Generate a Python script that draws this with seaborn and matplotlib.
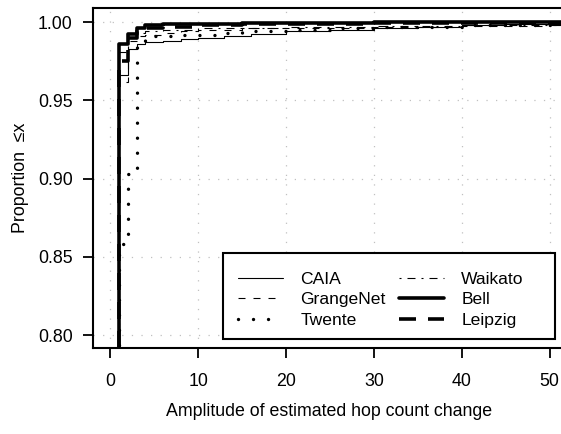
import numpy as np
import pandas as pd
import matplotlib
matplotlib.use("Agg")
import matplotlib.pyplot as plt
import matplotlib.patches as mpatches
import seaborn as sns

# ---- data (step CDFs: x where the CDF jumps, value after the jump) ----
caia_x = [0, 1, 2, 3, 4, 5, 6, 8, 10, 13, 16, 20, 25, 30, 35, 40, 45, 50, 60]
caia_y = [0.0, 0.966, 0.983, 0.986, 0.987, 0.9875, 0.988, 0.989, 0.990, 0.991, 0.9925,
          0.994, 0.995, 0.996, 0.997, 0.998, 0.9985, 0.999, 1.0]
grange_x = [0, 1, 2, 3, 4, 6, 8, 10, 15, 20, 30, 40, 50, 60]
grange_y = [0.0, 0.962, 0.988, 0.991, 0.992, 0.993, 0.994, 0.995, 0.996, 0.9965, 0.997,
            0.9975, 0.998, 1.0]
twente_x = [0, 1, 2, 3, 4, 5, 7, 9, 12, 15, 20, 25, 30, 40, 50, 60]
twente_y = [0.0, 0.858, 0.903, 0.9845, 0.989, 0.991, 0.9915, 0.992, 0.993, 0.994, 0.995,
            0.996, 0.997, 0.998, 0.999, 1.0]
waikato_x = [0, 1, 2, 3, 4, 6, 10, 15, 20, 30, 40, 50, 60]
waikato_y = [0.0, 0.981, 0.990, 0.993, 0.994, 0.995, 0.996, 0.9965, 0.997, 0.9975, 0.998,
             0.998, 1.0]
bell_x = [0, 1, 2, 3, 4, 6, 10, 15, 20, 30, 60]
bell_y = [0.0, 0.986, 0.9925, 0.996, 0.998, 0.9985, 0.999, 0.9993, 0.9996, 1.0, 1.0]
leipzig_x = [0, 1, 2, 3, 4, 6, 10, 15, 20, 30, 40, 60]
leipzig_y = [0.0, 0.975, 0.990, 0.994, 0.996, 0.997, 0.998, 0.9985, 0.999, 0.9993, 0.9996, 1.0]

names = ["CAIA", "GrangeNet", "Twente", "Waikato", "Bell", "Leipzig"]
xs = [caia_x, grange_x, twente_x, waikato_x, bell_x, leipzig_x]
ys = [caia_y, grange_y, twente_y, waikato_y, bell_y, leipzig_y]

x_ticks = [0, 10, 20, 30, 40, 50]
y_ticks = [0.80, 0.85, 0.90, 0.95, 1.00]
y_ticklabels = ["0.80", "0.85", "0.90", "0.95", "1.00"]

frames = []
for n, x, y in zip(names, xs, ys):
    frames.append(pd.DataFrame({"trace": n, "amp": x, "prop": y}))
df = pd.concat(frames, ignore_index=True)

sns.set_theme(style="white")
plt.rcParams["font.family"] = ["Liberation Sans", "DejaVu Sans"]
plt.rcParams["lines.scale_dashes"] = False
plt.rcParams["text.color"] = "black"
plt.rcParams["axes.labelcolor"] = "black"
plt.rcParams["xtick.color"] = "black"
plt.rcParams["ytick.color"] = "black"

W, H = 561, 434
fig = plt.figure(figsize=(W / 100, H / 100), dpi=100)
ax = fig.add_axes([92.7 / W, (H - 347.7) / H, (565 - 92.7) / W, (347.7 - 8.3) / H])

px = 0.72  # points per pixel
styles = {
    "CAIA": dict(lw=1.1 * px, solid=True),
    "GrangeNet": dict(lw=1.1 * px, dashes=(0, (7 * px, 8 * px))),
    "Twente": dict(lw=3.4 * px, dashes=(0, (0.01, 15 * px))),
    "Waikato": dict(lw=1.1 * px, dashes=(0, (2 * px, 6 * px, 8 * px, 6 * px))),
    "Bell": dict(lw=3.6 * px, solid=True),
    "Leipzig": dict(lw=3.6 * px, dashes=(0, (17 * px, 12 * px))),
}

sns.lineplot(data=df, x="amp", y="prop", hue="trace", units="trace", estimator=None,
             drawstyle="steps-post", palette=["black"] * 6, legend=False, ax=ax, sort=False)

handles = []
for line, n in zip(ax.get_lines(), names):
    st = styles[n]
    line.set_linewidth(st["lw"])
    line.set_color("black")
    if n == "Twente":
        line.set_linestyle(st["dashes"])
        line.set_dash_capstyle("round")
    elif not st.get("solid"):
        line.set_linestyle(st["dashes"])
        line.set_dash_capstyle("butt")
    else:
        line.set_linestyle("-")
    line.set_label(n)
    handles.append(line)

ax.set_xlim(-1.99, 51.74)
ax.set_ylim(0.7919, 1.0088)
ax.set_xticks(x_ticks)
ax.set_xticklabels([str(t) for t in x_ticks])
ax.set_yticks(y_ticks)
ax.set_yticklabels(y_ticklabels)

for v in x_ticks:
    ax.axvline(v, color="#c0c0c0", lw=0.9, ls=(0, (0.9, 6)), zorder=0)
for v in y_ticks:
    ax.axhline(v, color="#c0c0c0", lw=0.9, ls=(0, (0.9, 6)), zorder=0)

for s in ax.spines.values():
    s.set_linewidth(1.5)
    s.set_color("black")

ax.tick_params(axis="both", direction="out", length=7.5, width=1.3, colors="black",
               labelsize=12.8, bottom=True, left=True)
ax.tick_params(axis="x", pad=11)
ax.tick_params(axis="y", pad=7)
ax.set_xlabel("Amplitude of estimated hop count change", fontsize=12.8, labelpad=9)
ax.set_ylabel("Proportion  \u2264x", fontsize=12.8, labelpad=6)

# legend box (R-style, wider on the right)
box = mpatches.Rectangle((223 / W, (H - 339) / H), (555 - 223) / W, (339 - 253) / H,
                         transform=fig.transFigure, facecolor="white", edgecolor="black",
                         linewidth=1.5, zorder=4)
ax.add_patch(box)
box.set_clip_on(False)

leg = ax.legend(handles, names, ncol=2,
                loc="upper left", bbox_to_anchor=(223 / W, (H - 256.5) / H),
                bbox_transform=fig.transFigure, borderaxespad=0, frameon=False,
                fontsize=12.6, handlelength=2.6, handletextpad=0.97, columnspacing=0.75,
                labelspacing=0.32, borderpad=0.85)
leg.set_zorder(6)

fig.savefig("out.png", dpi=100)
